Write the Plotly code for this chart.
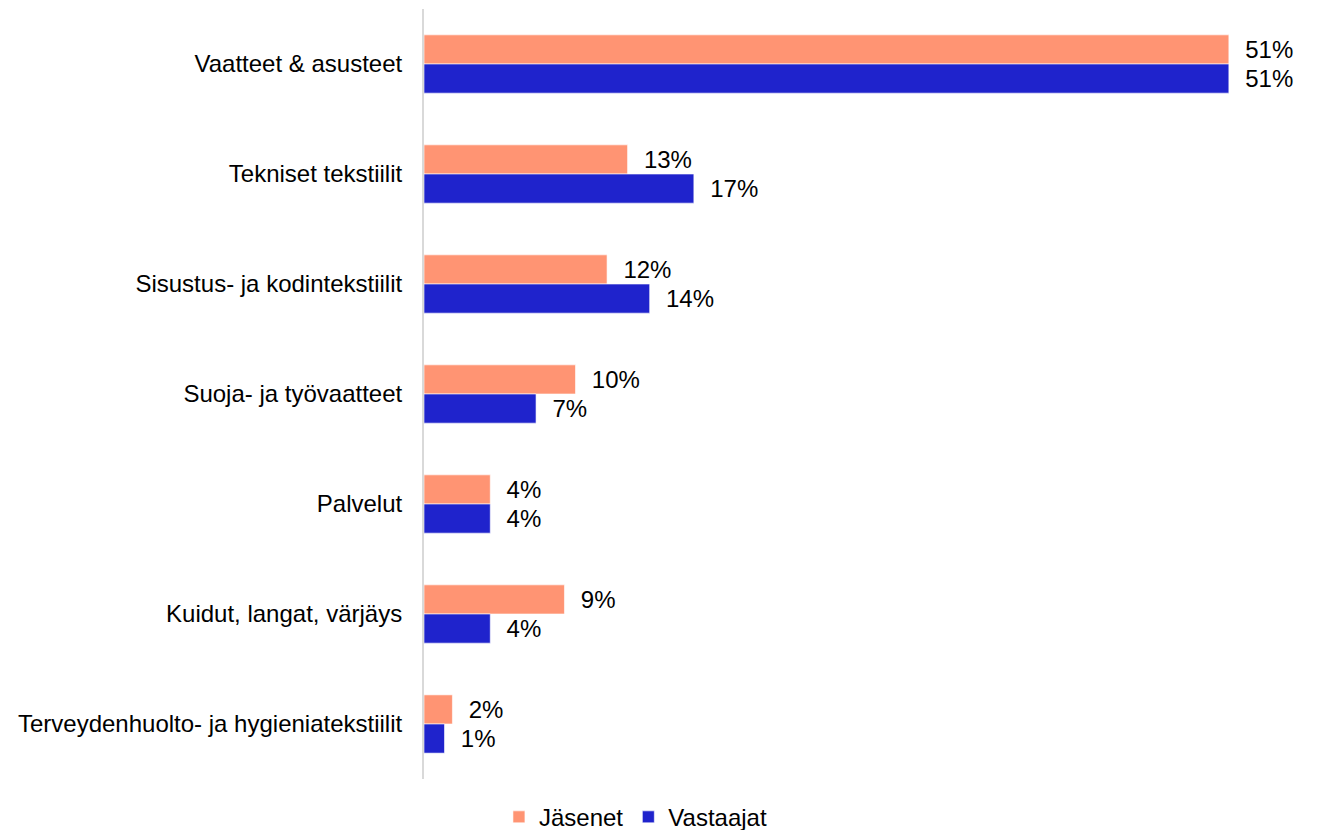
import plotly.graph_objects as go

categories = [
    "Vaatteet & asusteet",
    "Tekniset tekstiilit",
    "Sisustus- ja kodintekstiilit",
    "Suoja- ja työvaatteet",
    "Palvelut",
    "Kuidut, langat, värjäys",
    "Terveydenhuolto- ja hygieniatekstiilit",
]
jasenet = [0.510, 0.129, 0.116, 0.096, 0.042, 0.089, 0.018]
vastaajat = [0.510, 0.171, 0.143, 0.071, 0.042, 0.042, 0.013]
series_names = ["Jäsenet", "Vastaajat"]
colors = ["#FF9473", "#1F23CC"]

fig = go.Figure()
for name, vals, col in [(series_names[0], jasenet, colors[0]), (series_names[1], vastaajat, colors[1])]:
    fig.add_trace(go.Bar(
        y=categories, x=vals, name=name, orientation="h",
        marker=dict(color=col, line=dict(color="rgba(255,255,255,0.6)", width=1)),
        texttemplate="\u00a0\u00a0%{x:.0%}", textposition="outside",
        textfont=dict(size=24, color="#000000"), cliponaxis=False,
    ))

fig.update_layout(
    width=1322, height=830,
    margin=dict(l=416, r=38, t=1, b=59),
    plot_bgcolor="white", paper_bgcolor="white",
    barmode="group", bargap=0.47, bargroupgap=0,
    font=dict(family="Liberation Sans, Arial, sans-serif", size=24, color="#000000"),
    showlegend=True,
    legend=dict(orientation="h", xref="container", yref="container",
                x=0.475, xanchor="center", y=0.025, yanchor="middle",
                traceorder="normal", font=dict(size=24), itemwidth=30),
    xaxis=dict(range=[0, 0.55], showgrid=False, showticklabels=False, zeroline=False, showline=False),
    yaxis=dict(autorange="reversed", showgrid=False, showline=True, linecolor="#D9D9D9", linewidth=2,
               ticks="", ticklabelstandoff=15),
)
fig.write_html("out.html")
